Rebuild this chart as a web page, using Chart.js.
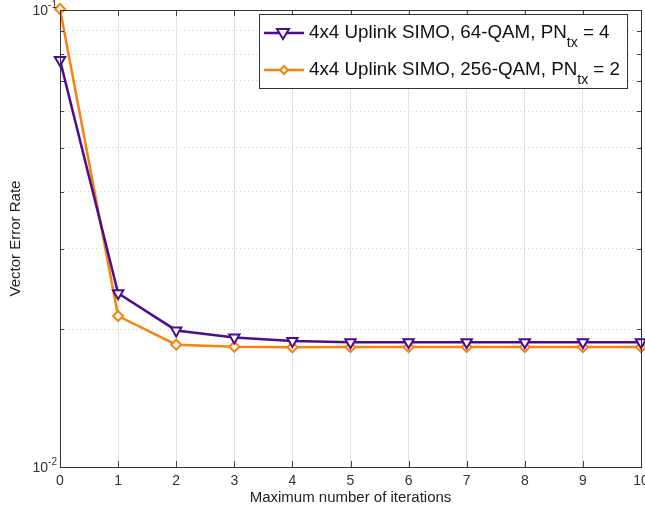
<!DOCTYPE html>
<html>
<head>
<meta charset="utf-8">
<script src="https://cdn.jsdelivr.net/npm/chart.js@4"></script>
<style>
  html, body { margin: 0; background: #fff; overflow: hidden; }
  canvas { display: block; }
</style>
</head>
<body>
<canvas id="ver" width="645" height="508"></canvas>
<script>
// data
const iterations = [0, 1, 2, 3, 4, 5, 6, 7, 8, 9, 10];
const ver64qam = [0.0777, 0.0240, 0.0199, 0.0192, 0.01887, 0.01875, 0.01875, 0.01875, 0.01875, 0.01875, 0.01875];
const ver256qam = [0.1005, 0.0214, 0.01852, 0.01833, 0.01828, 0.01830, 0.01830, 0.01830, 0.01830, 0.01830, 0.01830];
const legendNames = ['4x4 Uplink SIMO, 64-QAM, PN', '4x4 Uplink SIMO, 256-QAM, PN'];
const legendTails = [' = 4', ' = 2'];
const yTickValues = [0.01, 0.02, 0.03, 0.04, 0.05, 0.06, 0.07, 0.08, 0.09, 0.1];
const yTickExponents = { 0.01: '-2', 0.1: '-1' };

const purple = '#4a0d8f';
const orange = '#f7820c';
const FONT = '"Liberation Sans", Arial, sans-serif';

// MATLAB style inward ticks on all four sides, plus 10^n tick labels
const boxTicks = {
  id: 'boxTicks',
  afterDatasetsDraw(chart) {
    const { ctx, chartArea: a, scales: { x, y } } = chart;
    ctx.save();
    ctx.strokeStyle = '#444';
    ctx.lineWidth = 1;
    ctx.beginPath();
    x.ticks.forEach(t => {
      const px = Math.round(x.getPixelForValue(t.value)) + 0.5;
      ctx.moveTo(px, a.bottom); ctx.lineTo(px, a.bottom - 6);
      ctx.moveTo(px, a.top); ctx.lineTo(px, a.top + 6);
    });
    y.ticks.forEach(t => {
      const py = Math.round(y.getPixelForValue(t.value)) + 0.5;
      const len = yTickExponents[t.value] ? 6 : 4;
      ctx.moveTo(a.left, py); ctx.lineTo(a.left + len, py);
      ctx.moveTo(a.right, py); ctx.lineTo(a.right - len, py);
    });
    ctx.stroke();
    ctx.strokeStyle = '#333';
    ctx.strokeRect(Math.round(a.left) + 0.5, Math.round(a.top) + 0.5,
      Math.round(a.right - a.left), Math.round(a.bottom - a.top));

    ctx.fillStyle = '#333';
    ctx.textAlign = 'right';
    ctx.textBaseline = 'middle';
    y.ticks.forEach(t => {
      const exp = yTickExponents[t.value];
      if (!exp) return;
      const py = y.getPixelForValue(t.value);
      ctx.font = '10px ' + FONT;
      const ew = ctx.measureText(exp).width;
      ctx.fillText(exp, a.left - 3, py - 5);
      ctx.font = '14px ' + FONT;
      ctx.fillText('10', a.left - 3 - ew, py + 1);
    });
    ctx.restore();
  }
};

// legend with subscript "tx"
const matlabLegend = {
  id: 'matlabLegend',
  afterDraw(chart) {
    const ctx = chart.ctx;
    const bx = 259.5, by = 14.5, bw = 368, bh = 74;
    ctx.save();
    ctx.fillStyle = '#fff';
    ctx.fillRect(bx, by, bw, bh);
    ctx.strokeStyle = '#333';
    ctx.lineWidth = 1;
    ctx.strokeRect(bx, by, bw, bh);
    chart.data.datasets.forEach((ds, i) => {
      const yy = 33 + i * 37;
      ctx.strokeStyle = ds.borderColor;
      ctx.lineWidth = 2.5;
      ctx.beginPath();
      ctx.moveTo(264, yy); ctx.lineTo(304, yy);
      ctx.stroke();
      ctx.lineWidth = 2;
      ctx.fillStyle = '#fff';
      ctx.beginPath();
      if (i === 0) {
        ctx.moveTo(277, yy - 4); ctx.lineTo(289, yy - 4); ctx.lineTo(283, yy + 6); ctx.closePath();
      } else {
        ctx.moveTo(284, yy - 4); ctx.lineTo(288, yy); ctx.lineTo(284, yy + 4); ctx.lineTo(280, yy); ctx.closePath();
      }
      ctx.fill(); ctx.stroke();
      ctx.fillStyle = '#111';
      ctx.textBaseline = 'middle';
      ctx.font = '18.8px ' + FONT;
      ctx.fillText(legendNames[i], 309, yy);
      let w = ctx.measureText(legendNames[i]).width;
      ctx.font = '14px ' + FONT;
      ctx.fillText('tx', 309 + w, yy + 10);
      w += ctx.measureText('tx').width;
      ctx.font = '18.8px ' + FONT;
      ctx.fillText(legendTails[i], 309 + w, yy);
    });
    ctx.restore();
  }
};

new Chart(document.getElementById('ver').getContext('2d'), {
  type: 'line',
  data: {
    labels: iterations,
    datasets: [{
      label: legendNames[0] + 'tx' + legendTails[0],
      data: ver64qam,
      borderColor: purple,
      backgroundColor: '#fff',
      borderWidth: 2.5,
      pointStyle: 'triangle',
      rotation: 180,
      pointRadius: 6,
      pointBorderWidth: 2,
      clip: false
    }, {
      label: legendNames[1] + 'tx' + legendTails[1],
      data: ver256qam,
      borderColor: orange,
      backgroundColor: '#fff',
      borderWidth: 2.5,
      pointStyle: 'rectRot',
      pointRadius: 5,
      pointBorderWidth: 2,
      clip: false
    }]
  },
  options: {
    responsive: false,
    animation: false,
    layout: { autoPadding: false, padding: { top: 10, right: 4, left: 0, bottom: 0 } },
    plugins: { legend: { display: false }, tooltip: { enabled: false } },
    scales: {
      x: {
        type: 'linear',
        min: 0, max: 10,
        ticks: { stepSize: 1, color: '#333', font: { family: FONT, size: 14 }, padding: 6 },
        grid: { color: '#e3e3e3', drawTicks: false },
        border: { display: false },
        title: { display: true, text: 'Maximum number of iterations', color: '#222', font: { family: FONT, size: 15 }, padding: { top: 2, bottom: 1 } },
        afterFit: s => { s.height = 41; s.paddingRight = 0; s.paddingLeft = 0; }
      },
      y: {
        type: 'logarithmic',
        min: 0.01, max: 0.1,
        afterBuildTicks: s => { s.ticks = yTickValues.map(v => ({ value: v })); },
        ticks: { display: false },
        grid: { color: '#d0d0d0', drawTicks: false },
        border: { display: false, dash: [1, 3] },
        title: { display: true, text: 'Vector Error Rate', color: '#222', font: { family: FONT, size: 15 }, padding: { top: 7, bottom: 0 } },
        afterFit: s => { s.width = 60; s.paddingTop = 0; s.paddingBottom = 0; }
      }
    }
  },
  plugins: [boxTicks, matlabLegend]
});
</script>
</body>
</html>
